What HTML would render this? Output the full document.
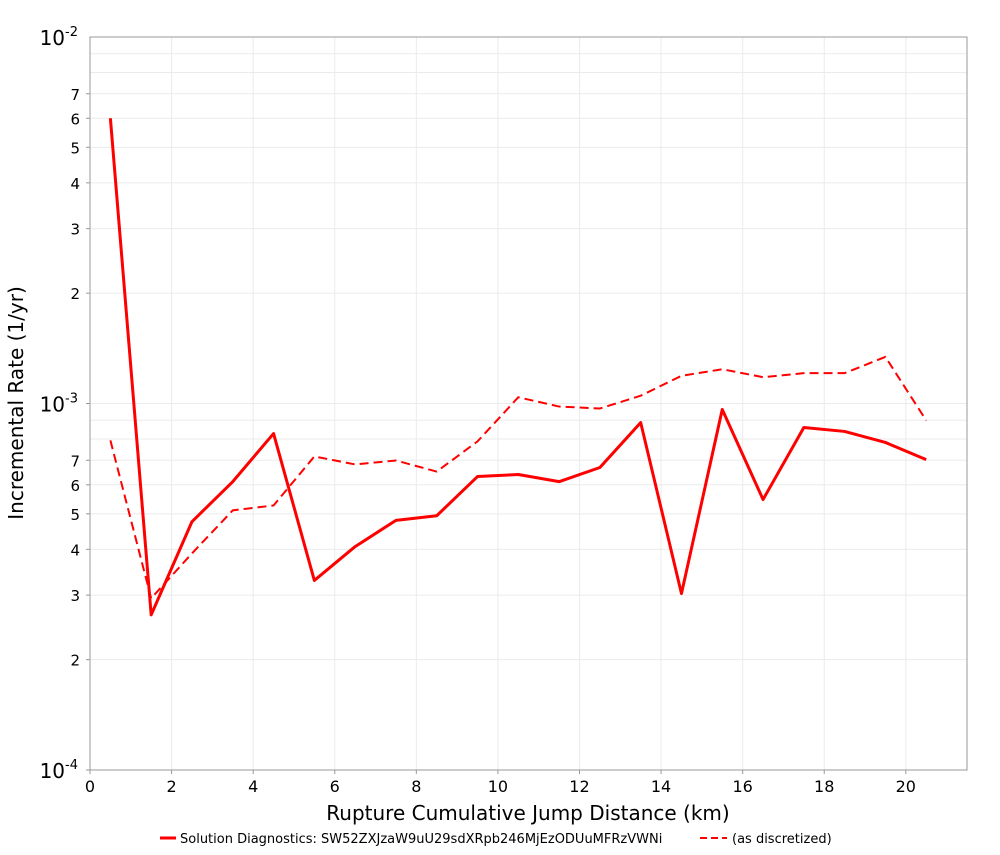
<!DOCTYPE html>
<html><head><meta charset="utf-8"><style>
body{margin:0;background:#fff;}
svg text{font-family:"DejaVu Sans","Liberation Sans",sans-serif;}
</style></head><body>
<svg id="chart" width="1000" height="850" xmlns="http://www.w3.org/2000/svg">
<rect x="0" y="0" width="1000" height="850" fill="#fff"/>
<g id="grid"></g>
<rect x="90" y="37" width="877" height="733" fill="none" stroke="#999" stroke-width="1"/>
<g id="ticks"></g>
<g id="series"></g>
<text x="528" y="820" text-anchor="middle" font-size="20">Rupture Cumulative Jump Distance (km)</text>
<text transform="translate(23,403) rotate(-90)" text-anchor="middle" font-size="20">Incremental Rate (1/yr)</text>
<g>
<line x1="160" y1="838" x2="176" y2="838" stroke="#f00" stroke-width="3"/>
<text x="180" y="843" font-size="13">Solution Diagnostics: SW52ZXJzaW9uU29sdXRpb246MjEzODUuMFRzVWNi</text>
<line x1="700" y1="838" x2="727" y2="838" stroke="#f00" stroke-width="2" stroke-dasharray="7,4"/>
<text x="732" y="843" font-size="13">(as discretized)</text>
</g>
</svg>
<script>
const xs=[0.5,1.5,2.5,3.5,4.5,5.5,6.5,7.5,8.5,9.5,10.5,11.5,12.5,13.5,14.5,15.5,16.5,17.5,18.5,19.5,20.5];
const solidRates=[6.0e-3,2.65e-4,4.76e-4,6.12e-4,8.28e-4,3.29e-4,4.07e-4,4.80e-4,4.94e-4,6.32e-4,6.40e-4,6.12e-4,6.69e-4,8.87e-4,3.03e-4,9.63e-4,5.47e-4,8.60e-4,8.39e-4,7.83e-4,7.03e-4];
const dashedRates=[7.93e-4,2.94e-4,3.90e-4,5.11e-4,5.27e-4,7.17e-4,6.82e-4,6.99e-4,6.52e-4,7.88e-4,1.04e-3,9.81e-4,9.69e-4,1.05e-3,1.19e-3,1.24e-3,1.18e-3,1.21e-3,1.21e-3,1.34e-3,8.99e-4];
const xTicks=[0,2,4,6,8,10,12,14,16,18,20];
const yMinorLabels=[2,3,4,5,6,7];
const NS="http://www.w3.org/2000/svg";
const L=90,R=967,T=37,B=770,XMAX=21.5;
const sx=v=>L+v/XMAX*(R-L);
const sy=v=>T+(-2-Math.log10(v))/2*(B-T);
function mk(t,a,p){const e=document.createElementNS(NS,t);for(const k in a)e.setAttribute(k,a[k]);p.appendChild(e);return e;}
const grid=document.getElementById('grid'),ticks=document.getElementById('ticks'),ser=document.getElementById('series');
xTicks.forEach(t=>{
 const g=mk('line',{x1:sx(t),x2:sx(t),y1:T,y2:B,stroke:'#ebebeb'},grid);
 
 
 const tk=mk('line',{x1:sx(t),x2:sx(t),y1:B,y2:B+4,stroke:'#999'},ticks);
 
 
 const tx=mk('text',{x:sx(t),y:B+22,'text-anchor':'middle','font-size':16},ticks);
 
 
 tx.textContent=t;
});
[-4,-3].forEach(d=>{
 for(let m=1;m<=9;m++){
  const v=m*Math.pow(10,d);const y=sy(v);
  const g=mk('line',{x1:L,x2:R,y1:y,y2:y,stroke:'#ebebeb'},grid);
  
  
  if(m===1||yMinorLabels.includes(m)){
   const tk=mk('line',{x1:L-4,x2:L,y1:y,y2:y,stroke:'#999'},ticks);
   
   
  }
  if(m===1){
   const tx=mk('text',{x:L-12,y:y+8,'text-anchor':'end','font-size':20},ticks);
   
   
   tx.innerHTML='10<tspan dy="-9" font-size="13">'+d+'</tspan>';
  } else if(yMinorLabels.includes(m)){
   const tx=mk('text',{x:L-10,y:y+6,'text-anchor':'end','font-size':15},ticks);
   
   
   tx.textContent=m;
  }
 }
});
{const tx=mk('text',{x:L-12,y:T+8,'text-anchor':'end','font-size':20},ticks);
 
 
 tx.innerHTML='10<tspan dy="-9" font-size="13">-2</tspan>';}
const pts=a=>a.map((v,i)=>sx(xs[i])+','+sy(v)).join(' ');
const d=mk('polyline',{points:pts(dashedRates),fill:'none',stroke:'#f00','stroke-width':2,'stroke-dasharray':'9,5'},ser);


const s=mk('polyline',{points:pts(solidRates),fill:'none',stroke:'#f00','stroke-width':3,'stroke-linejoin':'round'},ser);


</script>
</body></html>
